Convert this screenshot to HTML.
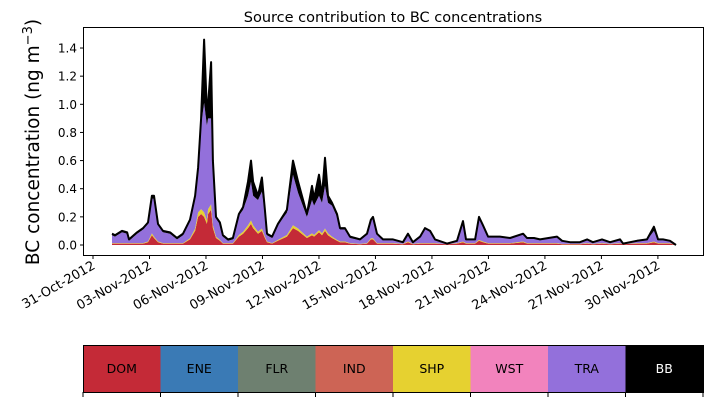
<!DOCTYPE html>
<html><head><meta charset="utf-8"><style>
body{margin:0;background:#fff;width:713px;height:402px;overflow:hidden}
svg{display:block;font-family:"DejaVu Sans","Liberation Sans",sans-serif}
</style></head><body>
<svg id="chart" width="713" height="402" viewBox="0 0 713 402" xmlns="http://www.w3.org/2000/svg">
<text x="393" y="22" font-size="14.5" text-anchor="middle">Source contribution to BC concentrations</text>
<text transform="translate(39,142) rotate(-90)" font-size="18.5" text-anchor="middle">BC concentration (ng m<tspan dy="-7" font-size="13">−3</tspan><tspan dy="7">)</tspan></text>
<g id="plot"></g>
<rect x="83.5" y="27.5" width="620" height="228" fill="none" stroke="#000" stroke-width="1"/>
<g id="axes"></g>
<g id="legend"></g>
</svg>
<script>
const days=[1.01,1.17,1.54,1.81,1.91,2.34,2.66,2.92,3.13,3.24,3.45,3.72,4.09,4.46,4.78,5.15,5.42,5.58,5.74,5.90,6.05,6.11,6.27,6.37,6.53,6.74,6.90,7.17,7.43,7.75,7.97,8.23,8.39,8.50,8.76,8.97,9.13,9.24,9.51,9.82,10.30,10.62,10.89,11.36,11.63,11.74,12.00,12.16,12.32,12.48,12.69,12.96,13.12,13.38,13.65,14.18,14.55,14.76,14.87,15.08,15.40,15.93,16.46,16.73,16.99,17.37,17.63,17.90,18.16,18.80,19.33,19.65,19.81,20.29,20.50,20.71,20.98,21.61,22.15,22.84,23.05,23.42,23.74,24.64,24.91,25.33,25.86,26.24,26.55,27.03,27.46,27.99,28.15,28.89,29.42,29.79,30.01,30.27,30.64,30.96];
const total=[.08,.07,.10,.09,.04,.09,.12,.16,.35,.35,.15,.10,.09,.05,.08,.18,.35,.55,.90,1.46,.95,1.00,1.30,.60,.20,.16,.07,.04,.05,.22,.27,.45,.60,.45,.35,.48,.25,.08,.06,.15,.25,.60,.45,.22,.42,.33,.50,.35,.62,.35,.30,.22,.12,.12,.06,.04,.08,.18,.20,.08,.04,.04,.02,.08,.02,.06,.12,.10,.04,.01,.03,.17,.04,.04,.20,.14,.06,.06,.05,.08,.05,.05,.04,.06,.03,.02,.02,.04,.02,.04,.02,.04,.01,.03,.04,.13,.04,.04,.03,.00];
const dom=[.01,.01,.01,.01,.01,.01,.01,.02,.07,.05,.02,.01,.01,.01,.01,.04,.10,.20,.22,.20,.15,.22,.25,.12,.05,.03,.01,.01,.01,.06,.08,.12,.15,.12,.08,.10,.05,.02,.01,.03,.06,.12,.10,.05,.07,.06,.09,.07,.10,.07,.05,.03,.02,.02,.01,.005,.01,.04,.04,.01,.01,.01,.005,.02,.005,.01,.01,.01,.01,.005,.01,.02,.01,.01,.03,.02,.01,.01,.01,.02,.01,.01,.01,.01,.005,.005,.005,.01,.005,.01,.005,.01,.005,.01,.01,.02,.01,.01,.01,0];
const bb=[.01,.01,.01,.01,.01,.01,.01,.01,.02,.02,.01,.01,.01,.01,.01,.01,.02,.03,.05,.45,.10,.10,.40,.05,.01,.01,.01,.01,.01,.01,.02,.10,.15,.10,.03,.10,.02,.01,.01,.01,.02,.10,.08,.02,.10,.05,.15,.05,.20,.05,.02,.02,.01,.01,.01,.005,.005,.01,.01,.005,.005,.005,.005,.005,.005,.005,.005,.005,.005,.005,.005,.01,.005,.005,.01,.01,.005,.005,.005,.005,.005,.005,.005,.005,.005,.005,.005,.005,.005,.005,.005,.005,.005,.005,.005,.03,.005,.005,.005,0];
const yTicks=[0,0.2,0.4,0.6,0.8,1.0,1.2,1.4];
const xTickDays=[0,3,6,9,12,15,18,21,24,27,30];
const xTickLabels=["31-Oct-2012","03-Nov-2012","06-Nov-2012","09-Nov-2012","12-Nov-2012","15-Nov-2012","18-Nov-2012","21-Nov-2012","24-Nov-2012","27-Nov-2012","30-Nov-2012"];
const sources=["DOM","ENE","FLR","IND","SHP","WST","TRA","BB"];
const colors=["#c42a37","#3a7ab5","#6e8070","#cd6455","#e6d130","#f283bd","#9370db","#000000"];

const NS="http://www.w3.org/2000/svg";
const X=d=>93+d*18.83;
const Y=v=>245-v*140.7;
function mk(tag,attrs,parent){const e=document.createElementNS(NS,tag);for(const k in attrs)e.setAttribute(k,attrs[k]);parent.appendChild(e);return e;}
function band(lo,hi){let p="";for(let i=0;i<days.length;i++)p+=(i?"L":"M")+X(days[i]).toFixed(1)+","+Y(hi[i]).toFixed(1);for(let i=days.length-1;i>=0;i--)p+="L"+X(days[i]).toFixed(1)+","+Y(lo[i]).toFixed(1);return p+"Z";}
const plot=document.getElementById("plot");
const zero=days.map(()=>0);
const traTop=total.map((t,i)=>Math.max(t-bb[i],dom[i]));
const shpTop=dom.map((d,i)=>Math.min(d*1.15+0.002,traTop[i]));
let e;
e=mk("path",{d:band(zero,dom),fill:colors[0]},plot);


e=mk("path",{d:band(dom,shpTop),fill:colors[4]},plot);


e=mk("path",{d:band(shpTop,traTop),fill:colors[6]},plot);


e=mk("path",{d:band(traTop,total),fill:"#000"},plot);


let lp="";for(let i=0;i<days.length;i++)lp+=(i?"L":"M")+X(days[i]).toFixed(1)+","+Y(total[i]).toFixed(1);
e=mk("path",{d:lp,fill:"none",stroke:"#000","stroke-width":2,"stroke-linejoin":"round"},plot);



const axes=document.getElementById("axes");
yTicks.forEach(v=>{
  const y=Y(v);
  e=mk("line",{x1:80,x2:83.5,y1:y,y2:y,stroke:"#000"},axes);
  
  
  e=mk("text",{x:77,y:y+4.5,"font-size":12,"text-anchor":"end"},axes);
  e.textContent=v.toFixed(1);
  
  
});
xTickDays.forEach((d,i)=>{
  const x=X(d);
  e=mk("line",{x1:x,x2:x,y1:255.5,y2:259,stroke:"#000"},axes);
  
  
  e=mk("text",{transform:`translate(${x+3},${268}) rotate(-30)`,"font-size":13,"text-anchor":"end"},axes);
  e.textContent=xTickLabels[i];
  
  
});

const leg=document.getElementById("legend");
const lx=83,lw=620/sources.length,ly=345,lh=47;
sources.forEach((s,i)=>{
  e=mk("rect",{x:lx+i*lw,y:ly,width:lw+0.5,height:lh,fill:colors[i]},leg);
  
  
  e=mk("text",{x:lx+i*lw+lw/2,y:ly+lh/2+4.5,"font-size":12.5,"text-anchor":"middle",fill:s==="BB"?"#fff":"#000"},leg);
  e.textContent=s;
  
  
});
for(let i=0;i<=sources.length;i++){
  e=mk("line",{x1:lx+i*lw,x2:lx+i*lw,y1:ly+lh,y2:ly+lh+5,stroke:"#000"},leg);
  
  
}
e=mk("rect",{x:lx+0.5,y:ly+0.5,width:620,height:lh,fill:"none",stroke:"#000"},leg);


</script>
</body></html>
